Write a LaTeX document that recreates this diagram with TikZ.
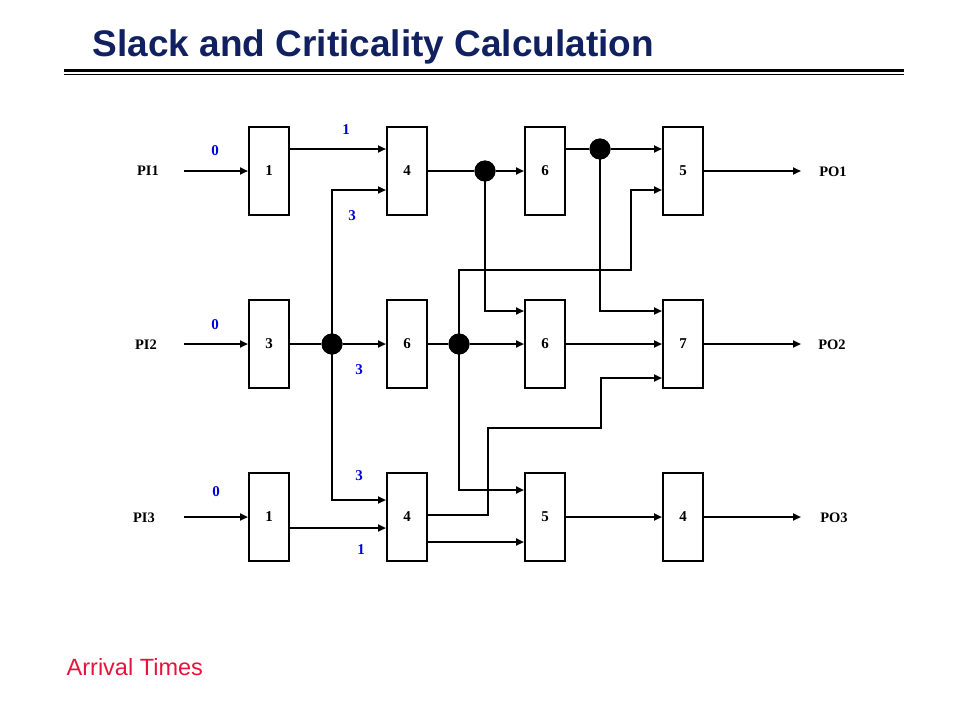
\documentclass[tikz,border=0pt]{standalone}
\usepackage{fontspec}
\setmainfont{Liberation Serif}
\newfontfamily\arialfont{Liberation Sans}
\usetikzlibrary{arrows.meta}
\definecolor{titleblue}{RGB}{16,32,96}
\definecolor{numblue}{RGB}{0,0,220}
\definecolor{arrred}{RGB}{230,20,60}
\begin{document}
\begin{tikzpicture}[x=1pt,y=-1pt,
 gate/.style={draw, line width=2pt, minimum width=40pt, minimum height=88pt, inner sep=0pt, font=\fontsize{15}{15}\selectfont\bfseries},
 wire/.style={line width=2pt},
 arr/.style={wire,-{Triangle[length=8pt,width=7pt]}},
 dotn/.style={circle, fill=black, minimum size=21pt, inner sep=0pt},
 lbl/.style={font=\fontsize{14.5}{14.5}\selectfont\bfseries, inner sep=0pt},
 num/.style={font=\fontsize{15}{15}\selectfont\bfseries, text=numblue, inner sep=0pt}]
\useasboundingbox (0,0) rectangle (960,720);

% title
\node[anchor=base west, inner sep=0pt, text=titleblue, font=\arialfont\fontsize{37}{37}\selectfont\bfseries] (title) at (92.5,56) {Slack and Criticality Calculation};
\draw[line width=3.3pt] (64,70.7) -- (904,70.7);
\draw[line width=1.3pt] (64,74.4) -- (904,74.4);

% gates
\node[gate] (g11) at (269,171) {1};
\node[gate] (g12) at (407,171) {4};
\node[gate] (g13) at (545,171) {6};
\node[gate] (g14) at (683,171) {5};
\node[gate] (g21) at (269,344) {3};
\node[gate] (g22) at (407,344) {6};
\node[gate] (g23) at (545,344) {6};
\node[gate] (g24) at (683,344) {7};
\node[gate] (g31) at (269,517) {1};
\node[gate] (g32) at (407,517) {4};
\node[gate] (g33) at (545,517) {5};
\node[gate] (g34) at (683,517) {4};

% junction dots
\node[dotn] (d1) at (332,344) {};
\node[dotn] (d2) at (485,171) {};
\node[dotn] (d3) at (459,344) {};
\node[dotn] (d4) at (600,149) {};

% inputs / outputs
\node[lbl] (pi1) at (148,171) {PI1};
\node[lbl] (pi2) at (146,345) {PI2};
\node[lbl] (pi3) at (144,518) {PI3};
\node[lbl] (po1) at (833,172) {PO1};
\node[lbl] (po2) at (832,345) {PO2};
\node[lbl] (po3) at (834,518) {PO3};
\coordinate (i1) at (184,171);
\coordinate (i2) at (184,344);
\coordinate (i3) at (184,517);
\coordinate (o1) at (801,171);
\coordinate (o2) at (801,344);
\coordinate (o3) at (801,517);
\coordinate (c1) at (631,270);
\coordinate (c2) at (488,428);
\coordinate (c3) at (601,378);

\draw[arr] (i1) -- (g11);
\draw[arr] (i2) -- (g21);
\draw[arr] (i3) -- (g31);
\draw[arr] (g14) -- (o1);
\draw[arr] (g24) -- (o2);
\draw[arr] (g34) -- (o3);

% row 1
\draw[arr] ([yshift=22pt]g11.east) -- ([yshift=22pt]g12.west);
\draw[wire] (g12) -- (d2);
\draw[arr] (d2) -- (g13);
\draw[wire] ([yshift=22pt]g13.east) -- (d4);
\draw[arr] (d4) -- ([yshift=22pt]g14.west);

% row 2
\draw[wire] (g21) -- (d1);
\draw[arr] (d1) -- (g22);
\draw[wire] (g22) -- (d3);
\draw[arr] (d3) -- (g23);
\draw[arr] (g23) -- (g24);

% row 3
\draw[arr] ([yshift=-11pt]g31.east) -- ([yshift=-11pt]g32.west);
\draw[arr] ([yshift=-25pt]g32.east) -- ([yshift=-25pt]g33.west);
\draw[arr] (g33) -- (g34);

% cross connections
\draw[arr] (d1.center) |- ([yshift=-19pt]g12.west);
\draw[arr] (d1.center) |- ([yshift=17pt]g32.west);
\draw[arr] (d2.center) |- ([yshift=33pt]g23.west);
\draw[arr] (d3.center) |- (c1) |- ([yshift=-19pt]g14.west);
\draw[arr] (d3.center) |- ([yshift=27pt]g33.west);
\draw[arr] (d4.center) |- ([yshift=33pt]g24.west);
\draw[arr] ([yshift=2pt]g32.east) -| (c2) -| (c3) -- ([yshift=-34pt]g24.west);

% redraw dots on top
\fill (d1) circle (10.5pt);
\fill (d2) circle (10.5pt);
\fill (d3) circle (10.5pt);
\fill (d4) circle (10.5pt);

% arrival times
\node[num] (n1) at (215,151) {0};
\node[num] (n2) at (215,325) {0};
\node[num] (n3) at (216,492) {0};
\node[num] (n4) at (346,130) {1};
\node[num] (n5) at (352,216) {3};
\node[num] (n6) at (359,370) {3};
\node[num] (n7) at (359,476) {3};
\node[num] (n8) at (361,550) {1};

\node[anchor=base west, inner sep=0pt, text=arrred, font=\arialfont\fontsize{23.5}{23.5}\selectfont] (arr) at (66.5,675) {Arrival Times};
\end{tikzpicture}
\end{document}
